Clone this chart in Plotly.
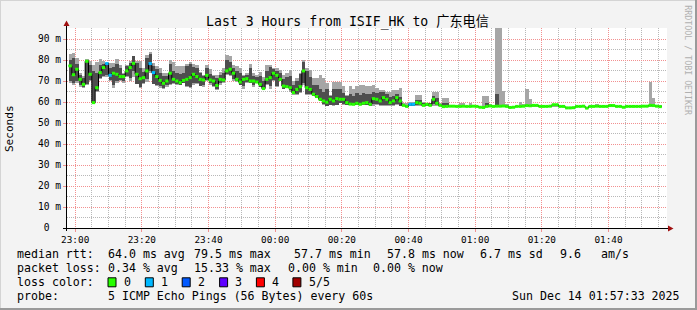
import plotly.graph_objects as go
import pandas as pd

# ---------------- data (one sample per minute) ----------------
start_time = "2025-12-13 22:58:00"
range_start = "2025-12-13 22:57:33"
range_end = "2025-12-14 01:57:33"

median = [
    77.2, 73.0, 75.6, 70.8, 68.4, 79.4, 73.2, 59.7, 66.8, 74.0,
    76.4, 78.3, 72.7, 73.7, 73.2, 72.1, 72.1, 74.8, 76.4, 78.4,
    73.2, 71.1, 71.6, 74.8, 78.3, 74.0, 72.1, 70.3, 68.9, 70.0,
    73.7, 70.8, 70.0, 69.2, 70.3, 70.8, 71.6, 73.2, 72.1, 70.8,
    70.5, 72.7, 70.5, 70.0, 67.9, 70.8, 70.5, 74.8, 75.6, 73.7,
    70.8, 69.5, 70.8, 71.1, 70.0, 70.0, 69.5, 68.4, 66.4, 70.8,
    71.6, 73.7, 72.7, 70.8, 67.6, 67.3, 66.8, 64.5, 66.0, 67.3,
    74.8, 66.8, 66.0, 63.7, 62.6, 61.3, 60.5, 59.9, 61.3, 60.5,
    61.6, 61.3, 61.3, 59.7, 59.0, 58.9, 59.4, 58.9, 59.4, 59.7,
    58.9, 61.6, 61.3, 60.5, 62.1, 61.3, 59.7, 60.5, 62.1, 60.5,
    58.4, 57.9, 58.9, 58.9, 59.7, 59.4, 58.4, 58.9, 58.4, 61.3,
    59.4, 58.4, 57.8, 57.9, 58.0, 58.0, 57.9, 57.9, 58.0, 57.9,
    57.9, 58.0, 57.9, 57.5, 57.4, 57.9, 58.1, 57.9, 58.0, 58.0,
    58.1, 57.9, 57.4, 57.5, 57.9, 57.9, 58.0, 58.3, 58.2, 58.4,
    58.4, 57.9, 57.9, 57.9, 58.0, 58.7, 58.7, 57.9, 57.9, 57.2,
    57.2, 57.3, 57.9, 57.9, 58.0, 57.1, 57.9, 57.9, 58.0, 57.9,
    57.9, 57.9, 58.3, 58.3, 57.9, 57.9, 57.5, 57.9, 57.9, 57.9,
    57.9, 57.9, 58.0, 58.0, 58.4, 58.3, 58.0, 57.8,
]

smoke_lo = [
    69, 68, 69, 67, 66.5, 68, 70, 59, 65, 71,
    72, 72, 70, 66.5, 69, 70, 69, 72, 70, 72,
    68.5, 66.5, 68.5, 69.3, 73.8, 68.5, 67.5, 66.5, 66, 67,
    68, 68.5, 68, 68, 69, 67, 66.5, 68, 68.5, 67.5,
    67, 70, 68.3, 67, 65.5, 68.3, 69, 73, 72.5, 70,
    69.5, 68, 66, 69, 69, 67, 69, 67, 66, 68,
    66, 70, 67, 70, 66, 66.5, 65, 63.5, 63.5, 64.5,
    68.3, 63.5, 63.5, 62.7, 61.9, 60.3, 58.7, 57.9, 58.7, 58.2,
    58.7, 59.4, 58.7, 58.7, 58.7, 58.7, 58.7, 58.5, 58.5, 58.5,
    58.0, 58.2, 58.5, 58.0, 58.0, 58.0, 58.0, 58.0, 58.5, 58.0,
    57.9, 57.8, 57.9, 57.9, 57.9, 58.0, 57.9, 57.9, 57.9, 58.0,
    58.0, 57.9, 57.7, 57.8, 57.7, 57.7, 57.7, 57.7, 57.7, 57.7,
    57.7, 57.7, 57.7, 57.5, 57.4, 57.7, 57.7, 57.7, 57.7, 57.7,
    57.7, 57.7, 57.4, 57.5, 57.7, 57.7, 57.7, 57.7, 57.7, 57.7,
    57.7, 57.7, 57.7, 57.7, 57.7, 57.7, 57.7, 57.7, 57.7, 57.2,
    57.2, 57.3, 57.7, 57.7, 57.7, 57.1, 57.7, 57.7, 57.7, 57.7,
    57.7, 57.7, 57.7, 57.7, 57.7, 57.7, 57.5, 57.7, 57.7, 57.7,
    57.7, 57.7, 57.7, 57.7, 57.7, 57.7, 57.7, 57.7,
]

smoke_ilo = [
    70, 69, 70, 68, 67, 68.5, 70.5, 59.3, 65.3, 71.5,
    72.5, 73, 70.5, 68, 70, 70.5, 70, 72.5, 71.5, 75,
    68.8, 67, 69, 71, 75, 68.8, 68, 67.5, 66.5, 68,
    68.5, 69, 68.5, 68.2, 69.2, 67.5, 67, 69, 69, 67.8,
    68, 70.5, 69, 67.5, 66, 69, 69.5, 73.2, 73, 71,
    69.8, 68.2, 67.5, 69.5, 69.2, 68, 69.1, 67.2, 66.1, 68.5,
    67.5, 70.5, 67.5, 70.2, 66.2, 66.8, 65.5, 63.8, 64, 65,
    69, 63.8, 63.8, 62.9, 62, 60.4, 59, 58.2, 58.8, 58.6,
    58.8, 59.7, 59, 58.8, 58.8, 58.8, 58.8, 58.6, 58.6, 58.6,
    58.3, 59, 59, 58.4, 58.4, 58.6, 58.6, 58.6, 59.2, 58.2,
    58.0, 57.9, 58.3, 58.3, 58.5, 58.5, 58.0, 58.2, 58.2, 59.0,
    58.5, 58.0, 57.8, 57.9, 57.7, 57.7, 57.7, 57.7, 57.7, 57.7,
    57.7, 57.7, 57.7, 57.5, 57.4, 58.0, 57.7, 57.7, 58.4, 57.7,
    57.7, 57.7, 57.4, 57.5, 57.7, 57.7, 58.0, 57.7, 57.7, 57.7,
    57.7, 57.7, 57.7, 57.7, 57.7, 57.7, 57.7, 57.7, 57.7, 57.2,
    57.2, 57.3, 57.7, 57.7, 57.7, 57.1, 57.7, 57.7, 57.7, 57.7,
    57.7, 57.7, 57.7, 57.7, 57.7, 57.7, 57.5, 57.7, 57.7, 57.7,
    57.7, 57.7, 57.7, 57.7, 57.7, 57.7, 57.7, 57.7,
]

smoke_ihi = [
    80, 81, 78, 73, 71.5, 80.2, 77.5, 75, 74, 77.5,
    78, 78.4, 76, 76.5, 78, 76, 73.5, 77, 78.5, 81.8,
    78.5, 76, 74.5, 81, 83, 77, 75.5, 74, 72.5, 72.5,
    78, 75, 74, 73.5, 74, 77, 78, 76.5, 76, 73.8,
    72.5, 76, 73.5, 72.5, 71.5, 73, 74, 80, 79, 76,
    75, 74, 72.5, 73, 76, 72.5, 72, 72.5, 70, 75,
    76.5, 75.5, 75, 74, 71, 72, 72.5, 68, 70, 73.5,
    79, 75, 72, 68, 68, 66, 65, 66, 63, 66,
    66, 66, 64.5, 62.8, 64, 63, 64.5, 63.5, 64.5, 64,
    64, 65, 64.5, 64.8, 64.8, 64, 62.5, 63, 64, 62.5,
    59.0, 58.5, 59.5, 59.5, 61.0, 61.0, 59.3, 59.5, 59.5, 63.0,
    62.0, 59.0, 59.5, 59.5, 57.7, 57.7, 57.7, 57.7, 57.7, 57.7,
    57.7, 57.7, 57.7, 57.5, 57.4, 59.5, 57.7, 57.7, 63.7, 57.7,
    57.7, 57.7, 57.4, 57.5, 57.7, 57.7, 58.8, 57.7, 57.7, 57.7,
    57.7, 57.7, 57.7, 57.7, 57.7, 57.7, 57.7, 57.7, 57.7, 57.2,
    57.2, 57.3, 57.7, 57.7, 57.7, 57.1, 57.7, 57.7, 57.7, 57.7,
    57.7, 57.7, 57.7, 57.7, 57.7, 57.7, 57.5, 57.7, 57.7, 57.7,
    57.7, 57.7, 57.7, 57.7, 57.7, 57.7, 57.7, 57.7,
]

smoke_hi = [
    83, 83.3, 81, 74, 72.5, 80.5, 79.5, 77.5, 79, 80.5,
    79.5, 78.5, 78.5, 78.5, 80.5, 77.8, 74, 77.8, 79.5, 82,
    79.5, 79.5, 76, 82.5, 84, 78.5, 77, 76, 74, 74,
    80, 79, 77, 77, 77, 78, 79, 78, 77.8, 74.5,
    73, 77.8, 75.5, 73, 73, 74.5, 76, 82.5, 81.8, 77.8,
    77, 76, 73, 73.8, 78, 73.8, 73, 74.5, 72, 77.8,
    77.8, 76.2, 76.2, 75.4, 73, 73.8, 75.4, 69.9, 71.4, 73.8,
    80.1, 76.2, 75.4, 71.4, 71.4, 73, 71.4, 69.1, 63.5, 69.5,
    69.5, 69.5, 67.5, 63.5, 67.5, 66, 67.5, 68, 68, 67.5,
    67.4, 68.2, 66.5, 65.9, 65.9, 65, 65, 65.9, 65.9, 66.8,
    59.5, 59.5, 60, 60, 63.5, 63.5, 60, 59.5, 59.5, 64.6,
    64.6, 59.5, 62, 62, 58.2, 58.2, 58.1, 59.5, 59.5, 57.9,
    59.5, 58.0, 57.9, 57.5, 62.9, 62.9, 59.0, 57.9, 95.3, 95.3,
    65.2, 59.0, 57.4, 57.5, 57.9, 59.8, 59.0, 66.0, 61.2, 58.4,
    58.4, 57.9, 57.9, 57.9, 58.0, 58.9, 58.7, 57.9, 57.9, 57.2,
    57.2, 57.3, 57.9, 57.9, 58.0, 57.1, 57.9, 57.9, 58.9, 57.9,
    57.9, 57.9, 59.2, 58.3, 57.9, 57.9, 57.5, 57.9, 57.9, 57.9,
    57.9, 57.9, 58.0, 58.0, 69.4, 61.8, 58.6, 58.6,
]

loss = [
    0, 0, 0, 0, 0, 0, 0, 0, 0, 0,
    0, 1, 1, 0, 0, 0, 0, 0, 0, 0,
    0, 0, 0, 0, 1, 1, 0, 0, 0, 0,
    0, 0, 0, 0, 0, 0, 0, 0, 0, 0,
    0, 0, 0, 0, 0, 0, 0, 0, 0, 0,
    0, 0, 0, 0, 0, 0, 0, 0, 0, 0,
    0, 0, 0, 0, 0, 0, 0, 0, 0, 0,
    0, 0, 0, 0, 0, 0, 0, 0, 0, 0,
    0, 0, 0, 0, 0, 0, 0, 0, 0, 0,
    0, 0, 0, 0, 0, 0, 0, 0, 0, 0,
    0, 0, 1, 1, 0, 0, 0, 0, 0, 0,
    0, 0, 0, 0, 0, 0, 0, 0, 0, 0,
    0, 0, 0, 0, 0, 0, 0, 0, 0, 0,
    0, 0, 0, 0, 0, 0, 0, 0, 0, 0,
    0, 0, 0, 0, 0, 0, 0, 0, 0, 0,
    0, 0, 0, 0, 0, 0, 0, 0, 0, 0,
    0, 0, 0, 0, 0, 0, 0, 0, 0, 0,
    0, 0, 0, 0, 0, 0, 0, 0,
]

loss_labels = ["0", "1", "2", "3", "4", "5/5"]
loss_colors = ["#26ff00", "#00b8ff", "#0059ff", "#5e00ff", "#ff0000", "#a00000"]

y_tick_vals = [0, 10, 20, 30, 40, 50, 60, 70, 80, 90]
y_tick_text = ["0\u00a0\u00a0", "10 m", "20 m", "30 m", "40 m", "50 m", "60 m", "70 m", "80 m", "90 m"]

title_text = "Last 3 Hours from ISIF_HK to 广东电信"
row1 = [(16, "median rtt:"), (107, "64.0 ms avg"), (193, "79.5 ms max"), (293, "57.7 ms min"),
        (386, "57.8 ms now"), (479, "6.7 ms sd"), (559, "9.6"), (600, "am/s")]
row2 = [(16, "packet loss:"), (107, "0.34 % avg"), (193, "15.33 % max"), (287, "0.00 % min"),
        (372, "0.00 % now")]
row3_label = "loss color:"
row4 = [(16, "probe:"), (107, "5 ICMP Echo Pings (56 Bytes) every 60s")]
date_text = "Sun Dec 14 01:57:33 2025"

# ---------------- geometry helpers ----------------
W, H = 697, 310
PL, PR, PT, PB = 67, 667, 28, 228
MONO = "DejaVu Sans Mono, Noto Sans CJK SC, monospace"


def fx(p):
    return (p - PL) / (PR - PL)


def fy(p):
    return (PB - p) / (PB - PT)


n = len(median)
edges = pd.date_range(start_time, periods=n + 1, freq="1min")
centers = edges[:-1] + pd.Timedelta(seconds=30)

fig = go.Figure()

# light smoke (min..max)
fig.add_trace(go.Bar(
    x=centers, base=smoke_lo, y=[h - l for h, l in zip(smoke_hi, smoke_lo)],
    width=60000, marker=dict(color="#a6a6a6", line=dict(width=0)),
    hoverinfo="skip", showlegend=False))
# dark smoke (inner pings)
fig.add_trace(go.Bar(
    x=centers, base=smoke_ilo, y=[h - l for h, l in zip(smoke_ihi, smoke_ilo)],
    width=60000, marker=dict(color="#4e4e4e", line=dict(width=0)),
    hoverinfo="skip", showlegend=False))

# median black step line
fig.add_trace(go.Scatter(
    x=list(edges), y=median + [median[-1]], mode="lines",
    line=dict(color="#000000", width=1, shape="hv"),
    hoverinfo="skip", showlegend=False))

# loss-coloured median markers
for lv, col in enumerate(loss_colors):
    xs, ys = [], []
    for i in range(n):
        if loss[i] == lv:
            xs += [edges[i], edges[i + 1], None]
            ys += [median[i], median[i], None]
    if xs:
        fig.add_trace(go.Scatter(
            x=xs, y=ys, mode="lines", line=dict(color=col, width=3),
            hoverinfo="skip", showlegend=False))

shapes = []
# axis lines
shapes.append(dict(type="line", xref="paper", yref="paper",
                   x0=fx(63), x1=fx(669), y0=fy(228.5), y1=fy(228.5),
                   line=dict(color="#000000", width=1)))
shapes.append(dict(type="line", xref="paper", yref="paper",
                   x0=fx(66.5), x1=fx(66.5), y0=fy(231), y1=fy(25),
                   line=dict(color="#000000", width=1)))
# arrow heads
shapes.append(dict(type="path", xref="paper", yref="paper",
                   path=f"M {fx(668)},{fy(225.5)} L {fx(668)},{fy(231.5)} L {fx(673.5)},{fy(228.5)} Z",
                   fillcolor="#a01010", line=dict(width=0)))
shapes.append(dict(type="path", xref="paper", yref="paper",
                   path=f"M {fx(63.5)},{fy(26)} L {fx(69.5)},{fy(26)} L {fx(66.5)},{fy(20.5)} Z",
                   fillcolor="#a01010", line=dict(width=0)))
# image frame
shapes.append(dict(type="line", xref="paper", yref="paper", x0=fx(0), x1=fx(697),
                   y0=fy(0.5), y1=fy(0.5), line=dict(color="#d4d4d4", width=1)))
shapes.append(dict(type="line", xref="paper", yref="paper", x0=fx(0.5), x1=fx(0.5),
                   y0=fy(0), y1=fy(310), line=dict(color="#d4d4d4", width=1)))
shapes.append(dict(type="line", xref="paper", yref="paper", x0=fx(0), x1=fx(697),
                   y0=fy(309), y1=fy(309), line=dict(color="#9a9a9a", width=2)))
shapes.append(dict(type="line", xref="paper", yref="paper", x0=fx(696), x1=fx(696),
                   y0=fy(0), y1=fy(310), line=dict(color="#9a9a9a", width=2)))

# legend boxes
box_x = [108, 145.3, 182.2, 219.6, 256.4, 292.9]
lab_x = [123, 160, 197, 234, 271, 308]
for bx, col in zip(box_x, loss_colors):
    shapes.append(dict(type="rect", xref="paper", yref="paper",
                       x0=fx(bx), x1=fx(bx + 8), y0=fy(277.8), y1=fy(286.8),
                       fillcolor=col, line=dict(color="#000000", width=1)))

ann = []


def text(xp, yp, s, size=11.6, anchor="left", color="#000000", angle=0):
    ann.append(dict(x=fx(xp), y=fy(yp), xref="paper", yref="paper", text=s,
                    showarrow=False, xanchor=anchor, yanchor="middle",
                    textangle=angle, borderpad=0,
                    font=dict(family=MONO, size=size, color=color)))


text(347.4, 22.5, title_text, size=13.2, anchor="center")
text(9.8, 128.3, "Seconds", size=11.1, anchor="center", angle=-90)
text(687.8, 60, "RRDTOOL / TOBI OETIKER", size=8.3, anchor="center", color="#b0b0b0", angle=90)
for xp, s in row1:
    text(xp, 254.3, s)
for xp, s in row2:
    text(xp, 268.3, s)
text(16, 282.3, row3_label)
for lx, s in zip(lab_x, loss_labels):
    text(lx, 282.3, s)
for xp, s in row4:
    text(xp, 296.3, s)
text(680.5, 296.3, date_text, anchor="right")

fig.update_layout(
    width=W, height=H,
    margin=dict(l=PL, r=W - PR, t=PT, b=H - PB, pad=0),
    paper_bgcolor="#f3f3f3", plot_bgcolor="#ffffff",
    barmode="overlay", bargap=0, showlegend=False,
    shapes=shapes, annotations=ann,
    xaxis=dict(
        type="date", range=[range_start, range_end],
        tickmode="linear", tick0="2025-12-13 23:00:00", dtick=20 * 60 * 1000,
        tickformat="%H:%M", tickfont=dict(family=MONO, size=9.4, color="#000000"),
        ticks="outside", ticklen=3, tickcolor="#f09090",
        showgrid=True, gridcolor="#f29090", griddash="1px,1px", gridwidth=1,
        minor=dict(dtick=5 * 60 * 1000, showgrid=True, gridcolor="#b8b8b8",
                   griddash="1px,1px", ticks=""),
        showline=False, zeroline=False, fixedrange=True,
    ),
    yaxis=dict(
        range=[0, (PB - PT) / 2.1],
        tickmode="array", tickvals=y_tick_vals, ticktext=y_tick_text,
        tickfont=dict(family=MONO, size=9.6, color="#000000"),
        ticks="outside", ticklen=3, tickcolor="#f09090",
        showgrid=True, gridcolor="#f29090", griddash="1px,1px", gridwidth=1,
        minor=dict(dtick=5, tick0=0, showgrid=True, gridcolor="#b8b8b8",
                   griddash="1px,1px", ticks=""),
        showline=False, zeroline=False, fixedrange=True,
    ),
)

fig.write_html("out.html", config={"displayModeBar": False})
